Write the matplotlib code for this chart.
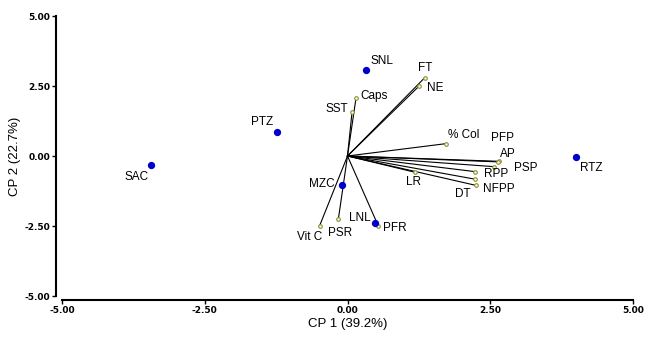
import matplotlib
matplotlib.use("Agg")
import matplotlib.pyplot as plt

plt.rcParams['font.family'] = ['Liberation Sans', 'DejaVu Sans']

# sites (blue points)
site_names = ['SNL', 'PTZ', 'SAC', 'RTZ', 'MZC', 'LNL']
site_x = [0.33, -1.24, -3.44, 4.00, -0.10, 0.49]
site_y = [3.07, 0.86, -0.32, -0.04, -1.04, -2.39]

# variables (vectors)
var_names = ['FT', 'NE', 'Caps', 'SST', '% Col', 'PFP', 'AP', 'PSP', 'RPP',
             'NFPP', 'DT', 'LR', 'PFR', 'PSR', 'Vit C']
var_x = [1.35, 1.26, 0.15, 0.08, 1.72, 2.66, 2.64, 2.56, 2.24,
         2.24, 2.25, 1.18, 0.54, -0.16, -0.49]
var_y = [2.79, 2.51, 2.08, 1.58, 0.44, -0.19, -0.21, -0.38, -0.56,
         -0.83, -1.05, -0.58, -2.50, -2.25, -2.50]

# label offsets in pixels (dx, dy)
site_off = {'SNL': (16, 9), 'PTZ': (-15, 10), 'SAC': (-15, -12),
            'RTZ': (15, -11), 'MZC': (-20, 1), 'LNL': (-16, 5)}
var_off = {'FT': (1, 10), 'NE': (16, -2), 'Caps': (18, 2), 'SST': (-15, 3),
           '% Col': (18, 9), 'PFP': (3, 23), 'AP': (10, 8), 'PSP': (32, -1),
           'RPP': (21, -2), 'NFPP': (23, -10), 'DT': (-13, -9), 'LR': (-1, -10),
           'PFR': (16, -2), 'PSR': (2, -14), 'Vit C': (-10, -11)}

fig = plt.figure(figsize=(6.57, 3.41), dpi=100)
ax = fig.add_axes([62 / 657, 45 / 341, 571 / 657, 280 / 341])

# spines first (set_position resets the ticks)
ax.spines['top'].set_visible(False)
ax.spines['right'].set_visible(False)
ax.spines['left'].set_position(('outward', 4))
ax.spines['bottom'].set_position(('outward', 3))
ax.spines['left'].set_linewidth(1.5)
ax.spines['bottom'].set_linewidth(1.5)

for n, x, y in zip(var_names, var_x, var_y):
    ax.plot([0, x], [0, y], color='black', lw=0.8, zorder=2)
    ax.plot(x, y, 'o', ms=2.6, mfc='#ffffcc', mec='#8c8c3c', mew=0.8, zorder=3)
    dx, dy = var_off[n]
    ax.annotate(n, (x, y), xytext=(dx * 0.72, dy * 0.72), textcoords='offset points',
                ha='center', va='center', fontsize=8.5)

ax.scatter(site_x, site_y, s=18, color='#0000cc', zorder=4)
for n, x, y in zip(site_names, site_x, site_y):
    dx, dy = site_off[n]
    ax.annotate(n, (x, y), xytext=(dx * 0.72, dy * 0.72), textcoords='offset points',
                ha='center', va='center', fontsize=8.5)

ax.set_xlim(-5, 5)
ax.set_ylim(-5, 5)
ticks = [-5, -2.5, 0, 2.5, 5]
ax.tick_params(length=3, width=1, pad=1.5, labelsize=6.5,
               labelfontfamily='Liberation Sans Narrow')
ax.set_xticks(ticks, ['%.2f' % t for t in ticks])
ax.set_yticks(ticks, ['%.2f' % t for t in ticks])
for lab in ax.get_xticklabels() + ax.get_yticklabels():
    lab.set_fontweight('bold')

ax.set_xlabel('CP 1 (39.2%)', fontsize=9.5, labelpad=2)
ax.set_ylabel('CP 2 (22.7%)', fontsize=9.5)
ax.yaxis.set_label_coords(-0.072, 0.5)

fig.savefig('out.png', dpi=100)
